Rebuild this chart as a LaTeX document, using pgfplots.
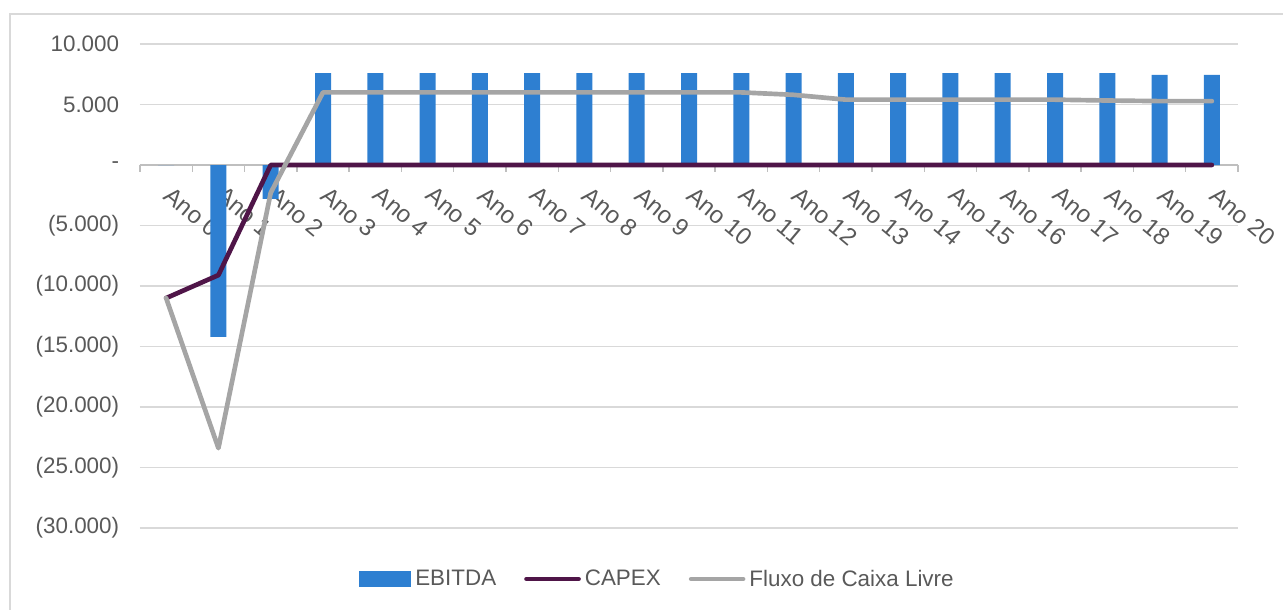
\documentclass[border=0pt]{standalone}
\usepackage{fontspec}
\setmainfont{Liberation Sans}
\usepackage{pgfplots}
\pgfplotsset{compat=1.18}
\definecolor{ebitda}{HTML}{2E7FD1}
\definecolor{capex}{HTML}{4F1548}
\definecolor{fcl}{HTML}{A5A5A5}
\definecolor{gridc}{HTML}{D9D9D9}
\definecolor{axc}{HTML}{BFBFBF}
\definecolor{txt}{HTML}{595959}
\begin{document}
\begin{tikzpicture}
\path[use as bounding box] (0,0) rectangle (962.25pt,-457.5pt);
\draw[gridc, line width=1.5pt] (7.5pt,-457.5pt) -- (7.5pt,-10.5pt) -- (962.25pt,-10.5pt);
\begin{axis}[
  at={(105pt,-396pt)}, anchor=south west,
  width=823.5pt, height=363pt, scale only axis,
  xmin=-0.5, xmax=20.5, ymin=-30000, ymax=10000,
  scaled y ticks=false,
  axis x line=middle, axis y line=left,
  x axis line style={-, draw=axc, line width=1.1pt},
  y axis line style={draw=none},
  xtick={0,...,20},
  xticklabels={Ano 0,Ano 1,Ano 2,Ano 3,Ano 4,Ano 5,Ano 6,Ano 7,Ano 8,Ano 9,Ano 10,Ano 11,Ano 12,Ano 13,Ano 14,Ano 15,Ano 16,Ano 17,Ano 18,Ano 19,Ano 20},
  major x tick style={draw=none},
  minor xtick={-0.5,0.5,...,20.5},
  minor x tick style={draw=axc, line width=1.1pt},
  minor tick length=5pt,
  xtick align=outside,
  xticklabel style={xshift=5pt, yshift=-6pt, rotate=-40, anchor=north west, font=\fontsize{18}{22}\selectfont, text=txt},
  ytick={-30000,-25000,...,10000},
  yticklabels={(30.000),(25.000),(20.000),(15.000),(10.000),(5.000),-,5.000,10.000},
  major y tick style={draw=none},
  yticklabel style={font=\fontsize{16.8}{20}\selectfont, text=txt, xshift=-10pt},
  ymajorgrids, grid style={gridc, line width=1.1pt},
  legend style={at={(0.4722,-0.1054)}, anchor=center, draw=none, fill=none,
    legend columns=3, font=\fontsize{16.8}{20}\selectfont, text=txt,
    /tikz/every even column/.append style={column sep=18pt},
    inner sep=0pt, nodes={inner sep=3pt}},
  clip=false,
]
\addplot[ybar, bar width=12pt, fill=ebitda, draw=none,
  legend image code/.code={\fill[ebitda] (0pt,-6pt) rectangle (39pt,6pt);}]
  coordinates {(0,0) (1,-14200) (2,-2800) (3,7600) (4,7600) (5,7600) (6,7600) (7,7600) (8,7600) (9,7600) (10,7600) (11,7600) (12,7600) (13,7600) (14,7600) (15,7600) (16,7600) (17,7600) (18,7600) (19,7440) (20,7440)};
\addlegendentry{EBITDA}
\addplot[capex, line width=3.5pt, line join=round, line cap=round, mark=none,
  legend image code/.code={\draw[capex, line width=3.5pt, line cap=round] (1.5pt,0pt) -- (40.5pt,0pt);}]
  coordinates {(0,-11000) (1,-9100) (2,0) (3,0) (4,0) (5,0) (6,0) (7,0) (8,0) (9,0) (10,0) (11,0) (12,0) (13,0) (14,0) (15,0) (16,0) (17,0) (18,0) (19,0) (20,0)};
\addlegendentry{CAPEX}
\addplot[fcl, line width=3.5pt, line join=round, line cap=round, mark=none,
  legend image code/.code={\draw[fcl, line width=3.5pt, line cap=round] (1.5pt,0pt) -- (40.5pt,0pt);}]
  coordinates {(0,-11000) (1,-23400) (2,-2300) (3,6000) (4,6000) (5,6000) (6,6000) (7,6000) (8,6000) (9,6000) (10,6000) (11,6000) (12,5800) (13,5400) (14,5400) (15,5400) (16,5400) (17,5400) (18,5330) (19,5280) (20,5280)};
\addlegendentry{Fluxo de Caixa Livre}
\end{axis}
\end{tikzpicture}
\end{document}
